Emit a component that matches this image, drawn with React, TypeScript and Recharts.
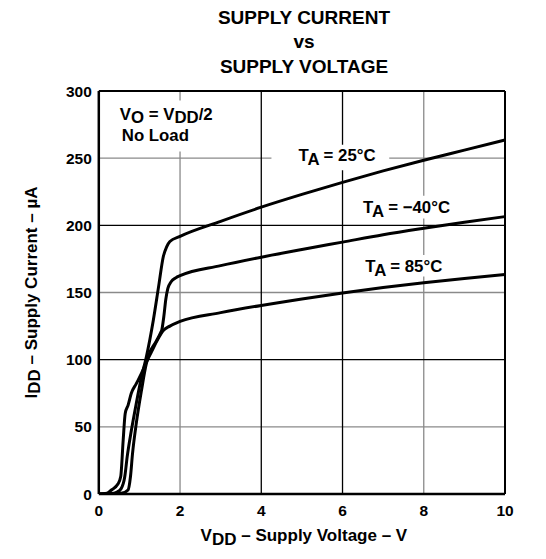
import React from "react";
import {
  LineChart,
  Line,
  XAxis,
  YAxis,
  CartesianGrid,
  ReferenceArea,
  ReferenceLine,
} from "recharts";

// supply voltage (V) / supply current (uA) pairs
const curve25: [number, number][] = [
  [0, 0], [0.3, 0.3], [0.45, 1.5], [0.55, 4], [0.64, 13], [0.7, 28],
  [0.8, 47], [0.92, 67], [1.05, 87], [1.17, 102], [1.34, 129], [1.47, 154],
  [1.59, 177], [1.67, 184], [1.75, 188], [2, 191.8], [3, 203], [4, 213.5],
  [5, 223], [6, 232], [7, 240.5], [8, 248.5], [9, 256], [10, 263.5],
];

const curveMinus40: [number, number][] = [
  [0, 0], [0.4, 0.2], [0.55, 0.5], [0.72, 3], [0.78, 13], [0.83, 30],
  [0.92, 52], [1.05, 77], [1.17, 97], [1.25, 105], [1.4, 113], [1.52, 120],
  [1.55, 122], [1.6, 132], [1.65, 145], [1.7, 153], [1.78, 158], [1.9, 161],
  [2, 162.5], [3, 170], [4, 176.3], [5, 182], [6, 187.5], [7, 193],
  [8, 197.8], [9, 202.3], [10, 206.5],
];

const curve85: [number, number][] = [
  [0, 0], [0.2, 0.5], [0.31, 3], [0.47, 7.4], [0.54, 13], [0.6, 40],
  [0.65, 60], [0.72, 66], [0.8, 75], [0.92, 82], [1.05, 89.7], [1.17, 98],
  [1.3, 106], [1.45, 115], [1.6, 122], [1.75, 125], [2, 128.5], [3, 135],
  [4, 140.4], [5, 145.2], [6, 149.7], [7, 153.7], [8, 157.3], [9, 160.5],
  [10, 163.4],
];

const xTicks = [0, 2, 4, 6, 8, 10];
const yTicks = [0, 50, 100, 150, 200, 250, 300];
const grayX = [2, 8];
const blackX = [4, 6];
const grayY = [50, 150, 250];
const blackY = [100, 200];

const toPoints = (c: [number, number][]) => c.map(([v, i]) => ({ v, i }));

const FONT = "'Liberation Sans', Arial, Helvetica, sans-serif";

type Part = { t: string; sub?: boolean };

const Parts = ({ parts, shift }: { parts: Part[]; shift: number }) => {
  let prev = false;
  return (
    <>
      {parts.map((p, k) => {
        const sub = !!p.sub;
        const dy = sub === prev ? 0 : sub ? shift : -shift;
        prev = sub;
        return (
          <tspan key={k} dy={dy}>
            {p.t}
          </tspan>
        );
      })}
    </>
  );
};

const tempLabel = (value: string, dx: number, dy: number) => (props: any) => {
  const vb = props.viewBox || {};
  return (
    <text
      x={vb.x + dx}
      y={vb.y + dy}
      fontFamily={FONT}
      fontWeight="bold"
      fontSize={16.8}
      fill="#000"
    >
      <Parts parts={[{ t: "T" }, { t: "A", sub: true }, { t: ` = ${value}` }]} shift={4} />
    </text>
  );
};

const conditionLabel = (props: any) => {
  const vb = props.viewBox || {};
  return (
    <g fontFamily={FONT} fontWeight="bold" fontSize={16.8} fill="#000">
      <text x={vb.x + 19} y={vb.y + 19.5}>
        <Parts
          parts={[
            { t: "V" },
            { t: "O", sub: true },
            { t: " = V" },
            { t: "DD", sub: true },
            { t: "/2" },
          ]}
          shift={3.5}
        />
      </text>
      <text x={vb.x + 21} y={vb.y + 41}>
        No Load
      </text>
    </g>
  );
};

const xTitle = (props: any) => {
  const vb = props.viewBox || {};
  return (
    <text
      x={vb.x + vb.width / 2 + 2}
      y={vb.y + 47}
      textAnchor="middle"
      fontFamily={FONT}
      fontWeight="bold"
      fontSize={17}
      fill="#000"
    >
      <Parts
        parts={[{ t: "V" }, { t: "DD", sub: true }, { t: " \u2013 Supply Voltage \u2013 V" }]}
        shift={3.5}
      />
    </text>
  );
};

const yTitle = (props: any) => {
  const vb = props.viewBox || {};
  const cx = vb.x + 18;
  const cy = vb.y + vb.height / 2;
  return (
    <text
      x={cx}
      y={cy}
      transform={`rotate(-90 ${cx} ${cy})`}
      textAnchor="middle"
      fontFamily={FONT}
      fontWeight="bold"
      fontSize={17}
      fill="#000"
    >
      <Parts
        parts={[{ t: "I" }, { t: "DD", sub: true }, { t: " \u2013 Supply Current \u2013 \u00b5A" }]}
        shift={3.5}
      />
    </text>
  );
};

const tickStyle = { fontFamily: FONT, fontWeight: "bold", fontSize: 15.5, fill: "#000" };

export default function App() {
  return (
    <div
      style={{
        position: "absolute",
        left: 0,
        top: 0,
        width: 546,
        height: 559,
        background: "#fff",
      }}
    >
      <div
        style={{
          position: "absolute",
          left: 104,
          width: 400,
          top: 5.5,
          textAlign: "center",
          fontFamily: FONT,
          fontWeight: "bold",
          fontSize: 19,
          lineHeight: "24.5px",
          color: "#000",
        }}
      >
        SUPPLY CURRENT
        <br />
        vs
        <br />
        SUPPLY VOLTAGE
      </div>
      <LineChart
        width={546}
        height={559}
        margin={{ top: 91, right: 41, bottom: 35, left: 18.8 }}
        style={{ position: "absolute", left: 0, top: 0 }}
      >
        <CartesianGrid
          stroke="#8a8a8a"
          strokeWidth={1.3}
          horizontalValues={grayY}
          verticalValues={grayX}
        />
        <CartesianGrid
          stroke="#000"
          strokeWidth={1.3}
          horizontalValues={blackY}
          verticalValues={blackX}
        />
        <XAxis
          type="number"
          dataKey="v"
          domain={[0, 10]}
          ticks={xTicks}
          allowDataOverflow
          height={30}
          tickLine={false}
          tickSize={0}
          tickMargin={11}
          tick={tickStyle}
          axisLine={{ stroke: "#000", strokeWidth: 2.5 }}
          label={{ content: xTitle }}
        />
        <YAxis
          type="number"
          domain={[0, 300]}
          ticks={yTicks}
          allowDataOverflow
          width={80}
          tickLine={false}
          tickSize={0}
          tickMargin={7}
          tick={tickStyle}
          axisLine={{ stroke: "#000", strokeWidth: 2.5 }}
          label={{ content: yTitle }}
        />
        <ReferenceArea
          x1={0.05}
          x2={3}
          y1={255}
          y2={293}
          fill="#fff"
          fillOpacity={1}
          stroke="none"
          label={{ content: conditionLabel }}
        />
        <ReferenceArea
          x1={4.25}
          x2={7.15}
          y1={241}
          y2={260}
          fill="#fff"
          fillOpacity={1}
          stroke="none"
          label={{ content: tempLabel("25\u00b0C", 27, 16.3) }}
        />
        <ReferenceArea
          x1={6.3}
          x2={8.95}
          y1={205}
          y2={222}
          fill="#fff"
          fillOpacity={1}
          stroke="none"
          label={{ content: tempLabel("\u221240\u00b0C", 8.4, 17.5) }}
        />
        <ReferenceArea
          x1={6.36}
          x2={8.65}
          y1={162}
          y2={178}
          fill="#fff"
          fillOpacity={1}
          stroke="none"
          label={{ content: tempLabel("85\u00b0C", 8, 16.8) }}
        />
        <ReferenceLine y={300} stroke="#000" strokeWidth={2} />
        <ReferenceLine x={10} stroke="#000" strokeWidth={2} />
        <Line
          data={toPoints(curve25)}
          dataKey="i"
          type="monotone"
          stroke="#000"
          strokeWidth={3}
          dot={false}
          isAnimationActive={false}
        />
        <Line
          data={toPoints(curveMinus40)}
          dataKey="i"
          type="monotone"
          stroke="#000"
          strokeWidth={3}
          dot={false}
          isAnimationActive={false}
        />
        <Line
          data={toPoints(curve85)}
          dataKey="i"
          type="monotone"
          stroke="#000"
          strokeWidth={3}
          dot={false}
          isAnimationActive={false}
        />
      </LineChart>
    </div>
  );
}
